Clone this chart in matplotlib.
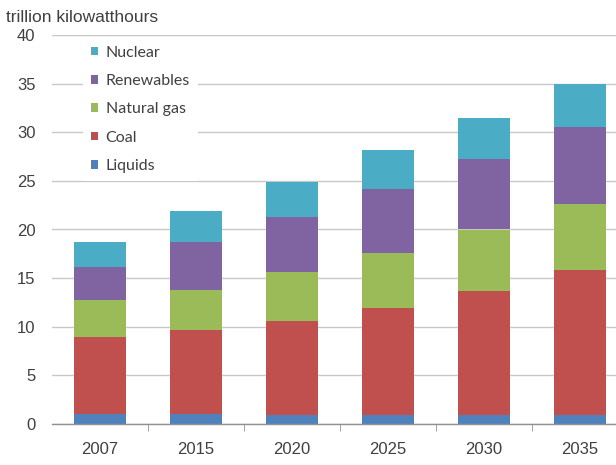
import matplotlib
matplotlib.use("Agg")
import matplotlib.pyplot as plt
import numpy as np

# world net electricity generation by fuel (trillion kWh)
years = ["2007", "2015", "2020", "2025", "2030", "2035"]
liquids = [1.0, 1.0, 0.9, 0.9, 0.9, 0.9]
coal = [7.9, 8.7, 9.7, 11.0, 12.8, 14.9]
natural_gas = [3.8, 4.1, 5.0, 5.7, 6.3, 6.8]
renewables = [3.4, 4.9, 5.7, 6.6, 7.3, 7.9]
nuclear = [2.6, 3.2, 3.6, 4.0, 4.2, 4.5]

series = [
    ("Liquids", liquids, "#4F81BD"),
    ("Coal", coal, "#C0504D"),
    ("Natural gas", natural_gas, "#9BBB59"),
    ("Renewables", renewables, "#8064A2"),
    ("Nuclear", nuclear, "#4BACC6"),
]

plt.rcParams["font.family"] = ["Liberation Sans", "DejaVu Sans"]
text_color = "#404040"

fig = plt.figure(figsize=(6.16, 4.65), dpi=100)
ax = fig.add_axes([52 / 616, (465 - 424) / 465, 576 / 616, 389 / 465])

x = np.arange(len(years))
bottom = np.zeros(len(years))
handles = []
for name, vals, color in series:
    bars = ax.bar(x, vals, width=0.54, bottom=bottom, color=color, label=name, zorder=2)
    handles.append(bars)
    bottom += np.array(vals)

ax.set_xlim(-0.5, len(years) - 0.5)
ax.set_ylim(0, 40)
ax.set_yticks(np.arange(0, 41, 5))
ax.yaxis.grid(True, color="#c8c8c8", linewidth=1.0, zorder=0)
ax.set_axisbelow(True)

for side in ["left", "right", "top"]:
    ax.spines[side].set_visible(False)
ax.spines["bottom"].set_color("#909090")
ax.spines["bottom"].set_linewidth(1.0)

ax.set_xticks(x)
ax.set_xticklabels(years)
ax.set_xticks(np.arange(0.5, len(years) - 0.5, 1), minor=True)
ax.tick_params(axis="x", which="major", length=0, pad=13, labelsize=12, labelcolor=text_color)
ax.tick_params(axis="x", which="minor", length=5, color="#909090", direction="out")
ax.tick_params(axis="y", length=0, pad=12, labelsize=12, labelcolor=text_color)

fig.text(6 / 616, 1 - 18 / 465, "trillion kilowatthours", fontsize=12.5,
         color=text_color, va="center", ha="left")

leg = ax.legend(handles[::-1], [s[0] for s in series][::-1],
                loc="upper left", bbox_to_anchor=(0.053, 0.993), borderaxespad=0,
                frameon=True, fancybox=False, edgecolor="none", facecolor="white",
                framealpha=1, labelspacing=0.9,
                handlelength=0.45, handleheight=0.45, handletextpad=0.5,
                borderpad=0.5, prop={"family": ["Lato", "DejaVu Sans"], "size": 11.5})
for t in leg.get_texts():
    t.set_color(text_color)

fig.savefig("out.png", dpi=100)
